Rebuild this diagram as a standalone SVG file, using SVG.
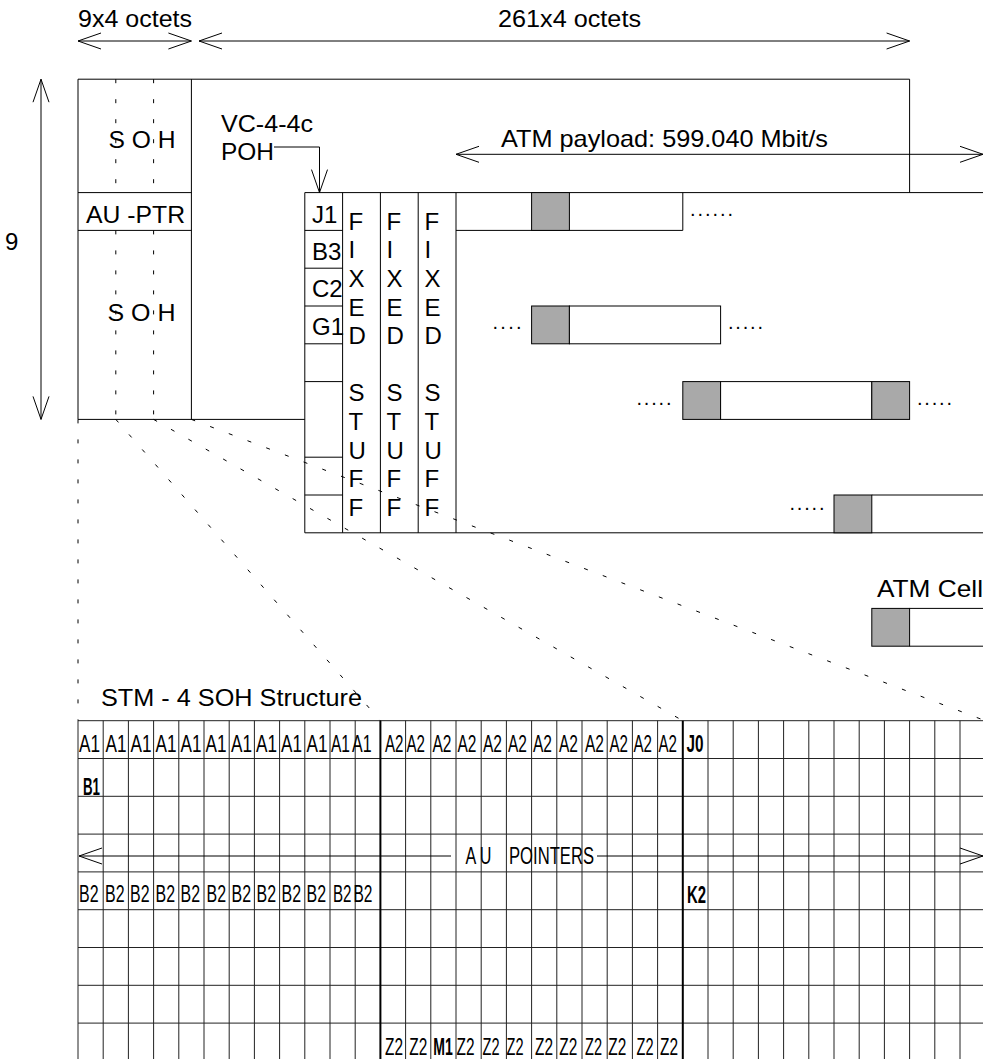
<svg xmlns="http://www.w3.org/2000/svg" width="983" height="1059" viewBox="0 0 983 1059">
<defs>
<style>
.ln{stroke:#000;stroke-width:1;fill:none}
.th{stroke:#000;stroke-width:2;fill:none}
.dash{stroke:#000;stroke-width:1;fill:none;stroke-dasharray:4 16}
.grid{stroke:#222;stroke-width:1;fill:none}
.t{font-family:"Liberation Sans",Arial,Helvetica,sans-serif;font-size:24px;fill:#000}
.c{font-family:"Liberation Sans",Arial,Helvetica,sans-serif;font-size:23px;fill:#000}
.b{font-family:"Liberation Sans",Arial,Helvetica,sans-serif;font-size:24px;font-weight:bold;fill:#000}
.dot{font-family:"Liberation Sans",Arial,Helvetica,sans-serif;font-size:20px;fill:#000}
.gray{fill:#a9a9a9;stroke:#000;stroke-width:1}
.cell{fill:#fff;stroke:#000;stroke-width:1}
</style>
<marker id="v" viewBox="0 0 24 18" refX="24" refY="9" markerWidth="24" markerHeight="18" markerUnits="userSpaceOnUse" orient="auto-start-reverse" overflow="visible">
<path d="M1,1 L24,9 L1,17" fill="none" stroke="#000" stroke-width="1"/>
</marker>
</defs>
<rect x="0" y="0" width="983" height="1059" fill="#fff"/>

<g id="labels-top">
<text class="t" x="78" y="27" textLength="114" lengthAdjust="spacingAndGlyphs">9x4 octets</text>
<text class="t" x="498" y="27" textLength="143" lengthAdjust="spacingAndGlyphs">261x4 octets</text>
<text class="t" x="5" y="250">9</text>
</g>

<g id="stm1-frame">
<path class="ln" d="M78,79.2 H909.6 V192.6 M78,79.2 V419.4 H304.8 M191.4,79.2 V419.4 M78,192.6 H191.4 M78,230.4 H191.4"/>
<text class="t" x="108.5" y="148.3" textLength="67" lengthAdjust="spacingAndGlyphs">S O H</text>
<text class="t" x="86" y="222.7" textLength="99" lengthAdjust="spacingAndGlyphs">AU -PTR</text>
<text class="t" x="107.5" y="320.7" textLength="68" lengthAdjust="spacingAndGlyphs">S O H</text>
</g>

<g id="vc-4-4c">
<path class="ln" d="M304.8,192.6 H990 M304.8,192.6 V532.8 H990 M342.6,192.6 V532.8 M380.4,192.6 V532.8 M418.2,192.6 V532.8 M456,192.6 V532.8 M304.8,230.4 H342.6 M304.8,268.2 H342.6 M304.8,306 H342.6 M304.8,343.8 H342.6 M304.8,381.6 H342.6 M304.8,457.2 H342.6 M304.8,495 H342.6"/>
<text class="t" x="221" y="131.7" textLength="92" lengthAdjust="spacingAndGlyphs">VC-4-4c</text>
<text class="t" x="221" y="160" textLength="53" lengthAdjust="spacingAndGlyphs">POH</text>
<text class="t" x="312" y="223.3">J1</text>
<text class="t" x="312" y="260">B3</text>
<text class="t" x="312" y="297.3">C2</text>
<text class="t" x="312" y="335">G1</text>
<text class="t"><tspan x="348.5" y="229.5">F</tspan><tspan x="348.5" y="258.2">I</tspan><tspan x="348.5" y="286.8">X</tspan><tspan x="348.5" y="315.5">E</tspan><tspan x="348.5" y="344.1">D</tspan><tspan x="348.5" y="401.4">S</tspan><tspan x="348.5" y="430.1">T</tspan><tspan x="348.5" y="458.7">U</tspan><tspan x="348.5" y="487.4">F</tspan><tspan x="348.5" y="516">F</tspan></text>
<text class="t"><tspan x="386.5" y="229.5">F</tspan><tspan x="386.5" y="258.2">I</tspan><tspan x="386.5" y="286.8">X</tspan><tspan x="386.5" y="315.5">E</tspan><tspan x="386.5" y="344.1">D</tspan><tspan x="386.5" y="401.4">S</tspan><tspan x="386.5" y="430.1">T</tspan><tspan x="386.5" y="458.7">U</tspan><tspan x="386.5" y="487.4">F</tspan><tspan x="386.5" y="516">F</tspan></text>
<text class="t"><tspan x="424.5" y="229.5">F</tspan><tspan x="424.5" y="258.2">I</tspan><tspan x="424.5" y="286.8">X</tspan><tspan x="424.5" y="315.5">E</tspan><tspan x="424.5" y="344.1">D</tspan><tspan x="424.5" y="401.4">S</tspan><tspan x="424.5" y="430.1">T</tspan><tspan x="424.5" y="458.7">U</tspan><tspan x="424.5" y="487.4">F</tspan><tspan x="424.5" y="516">F</tspan></text>
<text class="t" x="501" y="147.3" textLength="327" lengthAdjust="spacingAndGlyphs">ATM payload: 599.040 Mbit/s</text>
</g>

<g id="atm-cells">
<path class="ln" d="M456,230.4 H682.8 V192.6"/>
<rect class="gray" x="531.6" y="192.6" width="37.8" height="37.8"/>
<text class="dot" x="690" y="216" textLength="43" lengthAdjust="spacing">......</text>
<text class="dot" x="492.5" y="329" textLength="29" lengthAdjust="spacing">....</text>
<rect class="gray" x="531.6" y="306" width="37.8" height="37.8"/>
<rect class="cell" x="569.4" y="306" width="151.2" height="37.8"/>
<text class="dot" x="728" y="329" textLength="35" lengthAdjust="spacing">.....</text>
<text class="dot" x="636.5" y="404.5" textLength="35" lengthAdjust="spacing">.....</text>
<rect class="gray" x="682.8" y="381.6" width="37.8" height="37.8"/>
<rect class="cell" x="720.6" y="381.6" width="151.2" height="37.8"/>
<rect class="gray" x="871.8" y="381.6" width="37.8" height="37.8"/>
<text class="dot" x="917" y="404.5" textLength="35" lengthAdjust="spacing">.....</text>
<text class="dot" x="789.5" y="509.5" textLength="35" lengthAdjust="spacing">.....</text>
<rect class="gray" x="834" y="495" width="37.8" height="37.8"/>
<path class="ln" d="M871.8,495 H990"/>
</g>

<g id="atm-cell-legend">
<text class="t" x="877" y="597" textLength="106" lengthAdjust="spacingAndGlyphs">ATM Cell</text>
<rect class="gray" x="871.8" y="608.4" width="37.8" height="37.8"/>
<path class="ln" d="M909.6,608.4 H990 M909.6,646.2 H990"/>
</g>

<g id="stm4-soh">
<text class="t" x="101" y="706" textLength="261" lengthAdjust="spacingAndGlyphs">STM - 4 SOH Structure</text>
<path class="grid" d="M78,720.7 H990 M78,758.5 H990 M78,796.3 H990 M78,834.1 H990 M78,871.9 H990 M78,909.7 H990 M78,947.5 H990 M78,985.3 H990 M78,1023.1 H990
M78,720.7 V1060 M103.2,720.7 V1060 M128.4,720.7 V1060 M153.6,720.7 V1060 M178.8,720.7 V1060 M204,720.7 V1060 M229.2,720.7 V1060 M254.4,720.7 V1060 M279.6,720.7 V1060 M304.8,720.7 V1060 M330,720.7 V1060 M355.2,720.7 V1060
M405.6,720.7 V1060 M430.8,720.7 V1060 M456,720.7 V1060 M481.2,720.7 V1060 M506.4,720.7 V1060 M531.6,720.7 V1060 M556.8,720.7 V1060 M582,720.7 V1060 M607.2,720.7 V1060 M632.4,720.7 V1060 M657.6,720.7 V1060
M708,720.7 V1060 M733.2,720.7 V1060 M758.4,720.7 V1060 M783.6,720.7 V1060 M808.8,720.7 V1060 M834,720.7 V1060 M859.2,720.7 V1060 M884.4,720.7 V1060 M909.6,720.7 V1060 M934.8,720.7 V1060 M960,720.7 V1060"/>
<path class="th" d="M380.4,720.7 V1060 M682.8,720.7 V1060"/>
<g class="c">
<text x="79" y="751.7" textLength="21" lengthAdjust="spacingAndGlyphs">A1</text>
<text x="105.5" y="751.7" textLength="21" lengthAdjust="spacingAndGlyphs">A1</text>
<text x="130.5" y="751.7" textLength="21" lengthAdjust="spacingAndGlyphs">A1</text>
<text x="155.5" y="751.7" textLength="21" lengthAdjust="spacingAndGlyphs">A1</text>
<text x="180.5" y="751.7" textLength="21" lengthAdjust="spacingAndGlyphs">A1</text>
<text x="205.5" y="751.7" textLength="21" lengthAdjust="spacingAndGlyphs">A1</text>
<text x="231" y="751.7" textLength="21" lengthAdjust="spacingAndGlyphs">A1</text>
<text x="256" y="751.7" textLength="21" lengthAdjust="spacingAndGlyphs">A1</text>
<text x="281" y="751.7" textLength="21" lengthAdjust="spacingAndGlyphs">A1</text>
<text x="306.5" y="751.7" textLength="21" lengthAdjust="spacingAndGlyphs">A1</text>
<text x="331" y="751.7" textLength="19" lengthAdjust="spacingAndGlyphs">A1</text>
<text x="352" y="751.7" textLength="19.5" lengthAdjust="spacingAndGlyphs">A1</text>
<text x="385" y="751.7" textLength="18.5" lengthAdjust="spacingAndGlyphs">A2</text>
<text x="406.5" y="751.7" textLength="18.5" lengthAdjust="spacingAndGlyphs">A2</text>
<text x="432.5" y="751.7" textLength="19" lengthAdjust="spacingAndGlyphs">A2</text>
<text x="457.5" y="751.7" textLength="19" lengthAdjust="spacingAndGlyphs">A2</text>
<text x="483" y="751.7" textLength="19" lengthAdjust="spacingAndGlyphs">A2</text>
<text x="508" y="751.7" textLength="19" lengthAdjust="spacingAndGlyphs">A2</text>
<text x="533" y="751.7" textLength="19" lengthAdjust="spacingAndGlyphs">A2</text>
<text x="559" y="751.7" textLength="19" lengthAdjust="spacingAndGlyphs">A2</text>
<text x="585" y="751.7" textLength="19" lengthAdjust="spacingAndGlyphs">A2</text>
<text x="609.5" y="751.7" textLength="18.5" lengthAdjust="spacingAndGlyphs">A2</text>
<text x="633.5" y="751.7" textLength="18.5" lengthAdjust="spacingAndGlyphs">A2</text>
<text x="658.5" y="751.7" textLength="18.5" lengthAdjust="spacingAndGlyphs">A2</text>
<text x="79" y="902" textLength="19.5" lengthAdjust="spacingAndGlyphs">B2</text>
<text x="105" y="902" textLength="19.5" lengthAdjust="spacingAndGlyphs">B2</text>
<text x="130" y="902" textLength="19.5" lengthAdjust="spacingAndGlyphs">B2</text>
<text x="155.5" y="902" textLength="19.5" lengthAdjust="spacingAndGlyphs">B2</text>
<text x="180.5" y="902" textLength="19.5" lengthAdjust="spacingAndGlyphs">B2</text>
<text x="206.5" y="902" textLength="19.5" lengthAdjust="spacingAndGlyphs">B2</text>
<text x="231.5" y="902" textLength="19.5" lengthAdjust="spacingAndGlyphs">B2</text>
<text x="256.5" y="902" textLength="19.5" lengthAdjust="spacingAndGlyphs">B2</text>
<text x="281.5" y="902" textLength="19.5" lengthAdjust="spacingAndGlyphs">B2</text>
<text x="306.5" y="902" textLength="19.5" lengthAdjust="spacingAndGlyphs">B2</text>
<text x="333" y="902" textLength="18.5" lengthAdjust="spacingAndGlyphs">B2</text>
<text x="353.5" y="902" textLength="19" lengthAdjust="spacingAndGlyphs">B2</text>
<text x="385" y="1055" textLength="18" lengthAdjust="spacingAndGlyphs">Z2</text>
<text x="409.3" y="1055" textLength="18" lengthAdjust="spacingAndGlyphs">Z2</text>
<text x="456.5" y="1055" textLength="18" lengthAdjust="spacingAndGlyphs">Z2</text>
<text x="482.5" y="1055" textLength="17" lengthAdjust="spacingAndGlyphs">Z2</text>
<text x="506.5" y="1055" textLength="17" lengthAdjust="spacingAndGlyphs">Z2</text>
<text x="535" y="1055" textLength="18" lengthAdjust="spacingAndGlyphs">Z2</text>
<text x="559.3" y="1055" textLength="18" lengthAdjust="spacingAndGlyphs">Z2</text>
<text x="585" y="1055" textLength="17" lengthAdjust="spacingAndGlyphs">Z2</text>
<text x="608.3" y="1055" textLength="18" lengthAdjust="spacingAndGlyphs">Z2</text>
<text x="636.5" y="1055" textLength="17" lengthAdjust="spacingAndGlyphs">Z2</text>
<text x="660" y="1055" textLength="18" lengthAdjust="spacingAndGlyphs">Z2</text>
</g>
<g class="b">
<text x="686.5" y="751.7" textLength="17" lengthAdjust="spacingAndGlyphs">J0</text>
<text x="83" y="794.5" textLength="17" lengthAdjust="spacingAndGlyphs">B1</text>
<text x="687" y="902.5" textLength="19" lengthAdjust="spacingAndGlyphs">K2</text>
<text x="433.3" y="1055" textLength="19.5" lengthAdjust="spacingAndGlyphs">M1</text>
</g>
<text class="t" y="864"><tspan x="465.5" textLength="26" lengthAdjust="spacingAndGlyphs">A U</tspan><tspan x="509" textLength="85" lengthAdjust="spacingAndGlyphs">POINTERS</tspan></text>
</g>

<g id="connectors">
<line class="ln" x1="78" y1="41" x2="191.4" y2="41" marker-start="url(#v)" marker-end="url(#v)"/>
<line class="ln" x1="199" y1="41" x2="909.6" y2="41" marker-start="url(#v)" marker-end="url(#v)"/>
<line class="ln" x1="41" y1="79.2" x2="41" y2="419.4" marker-start="url(#v)" marker-end="url(#v)"/>
<line class="ln" x1="456" y1="154.3" x2="983" y2="154.3" marker-start="url(#v)" marker-end="url(#v)"/>
<polyline class="ln" points="274,147 319.5,147 319.5,192.6" marker-end="url(#v)"/>
<line class="ln" x1="79" y1="856" x2="451" y2="856" marker-start="url(#v)"/>
<line class="ln" x1="597" y1="856" x2="983" y2="856" marker-end="url(#v)"/>
<path class="dash" d="M115.8,79.2 V192.6 M153.6,79.2 V192.6 M115.8,230.4 V419.4 M153.6,230.4 V419.4"/>
<path class="dash" d="M78,419.4 V720.7 M115.8,419.4 L380.4,720.7 M153.6,419.4 L682.8,720.7 M191.4,419.4 L985.2,720.7"/>
</g>
</svg>
